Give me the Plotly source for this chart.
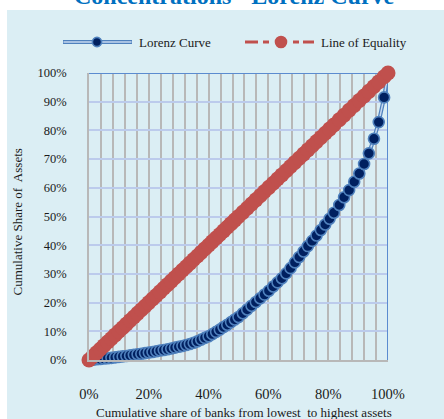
import plotly.graph_objects as go

# ---------------- data (percent) ----------------
bank_share = [
    0, 1.25, 2.5, 3.75, 5, 6.25, 7.5, 8.75, 10, 11.25, 12.5, 13.75, 15, 16.25,
    17.5, 18.75, 20, 21.25, 22.5, 23.75, 25, 26.25, 27.5, 28.75, 30, 31.25,
    32.5, 33.75, 35, 36.25, 37.5, 38.75, 40, 41.25, 42.5, 43.75, 45, 46.25,
    47.5, 48.75, 50, 51.45, 52.9, 54.35, 55.8, 57.25, 58.7, 60.15, 61.6, 63.05,
    64.5, 65.95, 67.4, 68.85, 70.3, 71.75, 73.2, 74.65, 76.1, 77.55, 79.0,
    80.45, 81.9, 83.7, 85.3, 87.0, 88.7, 90.4, 92.0, 93.6, 95.3, 96.9, 98.7, 100,
]
lorenz_share = [
    0, 0.1, 0.25, 0.35, 0.5, 0.6, 0.75, 0.9, 1.1, 1.25, 1.4, 1.6, 1.8, 2.0,
    2.2, 2.4, 2.6, 2.8, 3.05, 3.3, 3.5, 3.75, 4.0, 4.3, 4.6, 4.9,
    5.25, 5.6, 6.0, 6.5, 7.1, 7.7, 8.3, 9.0, 9.8, 10.6, 11.5, 12.3,
    13.2, 14.1, 15.0, 16.3, 17.6, 18.9, 20.2, 21.5, 22.8, 24.15, 25.6, 27.05,
    28.5, 30.2, 32.0, 34.0, 35.9, 37.8, 39.7, 41.5, 43.4, 45.3, 47.2,
    49.2, 51.3, 54.0, 56.7, 59.2, 62.1, 65.0, 68.3, 72.0, 77.1, 82.9, 91.5, 100,
]
x_tick_vals = [0, 20, 40, 60, 80, 100]
x_tick_text = ["0%", "20%", "40%", "60%", "80%", "100%"]
y_tick_vals = [0, 10, 20, 30, 40, 50, 60, 70, 80, 90, 100]
y_tick_text = ["0%", "10%", "20%", "30%", "40%", "50%", "60%", "70%", "80%", "90%", "100%"]

title_text = "Concentrations - Lorenz Curve"
lorenz_name = "Lorenz Curve"
equality_name = "Line of Equality"
x_title = "Cumulative share of banks from lowest  to highest assets"
y_title = "Cumulative Share of  Assets"

# ---------------- styling ----------------
W, H = 444, 419
L, R, T, B = 89, 56, 73, 59
FONT = "Liberation Serif"
BG = "#DBEEF4"
NAVY = "#002060"
BLUE = "#4F81BD"
LIGHT = "#C6D9F1"
RED = "#C0504D"
GRAY = "#B8B8B8"
HGRID = "#BCCBEC"


def px_x(p):
    return (p - L) / (W - L - R)


def px_y(p):
    return (H - B - p) / (H - T - B)


fig = go.Figure()

fig.add_trace(go.Scatter(
    x=bank_share, y=lorenz_share, mode="lines",
    line=dict(color=BLUE, width=4), hoverinfo="skip", showlegend=False,
    cliponaxis=False,
))
fig.add_trace(go.Scatter(
    x=bank_share, y=lorenz_share, mode="lines+markers", name=lorenz_name,
    line=dict(color=LIGHT, width=1.5),
    marker=dict(size=11, color=NAVY, line=dict(color=BLUE, width=1.6)),
    cliponaxis=False, showlegend=False,
))
fig.add_trace(go.Scatter(
    x=bank_share, y=bank_share, mode="lines+markers", name=equality_name,
    line=dict(color=RED, width=3, dash="dash"),
    marker=dict(size=15, color=RED, line=dict(width=0)),
    cliponaxis=False, showlegend=False,
))

shapes = [
    dict(type="rect", xref="paper", yref="paper",
         x0=px_x(7), x1=px_x(W + 2), y0=px_y(H + 2), y1=px_y(10),
         fillcolor=BG, line=dict(width=0), layer="below"),
    dict(type="line", xref="x", yref="y", x0=0, x1=100, y0=100, y1=100,
         line=dict(color="#5B8BD0", width=2), layer="between"),
    dict(type="line", xref="x", yref="y", x0=100, x1=100, y0=0, y1=100,
         line=dict(color="#5B8BD0", width=2), layer="between"),
]

# custom legend
ly = 42
shapes += [
    dict(type="line", xref="paper", yref="paper", x0=px_x(63), x1=px_x(132),
         y0=px_y(ly), y1=px_y(ly), line=dict(color=BLUE, width=4)),
    dict(type="line", xref="paper", yref="paper", x0=px_x(63.5), x1=px_x(131.5),
         y0=px_y(ly), y1=px_y(ly), line=dict(color=LIGHT, width=1.5)),
    dict(type="circle", xref="paper", yref="paper",
         x0=px_x(97 - 4.6), x1=px_x(97 + 4.6), y0=px_y(ly + 4.6), y1=px_y(ly - 4.6),
         fillcolor=NAVY, line=dict(color=BLUE, width=1.6)),
]
for a, b in [(245, 258), (263, 269), (293, 299), (303, 314)]:
    shapes.append(dict(type="line", xref="paper", yref="paper",
                       x0=px_x(a), x1=px_x(b), y0=px_y(ly), y1=px_y(ly),
                       line=dict(color=RED, width=3)))
shapes.append(dict(type="circle", xref="paper", yref="paper",
                   x0=px_x(281 - 6.3), x1=px_x(281 + 6.3),
                   y0=px_y(ly + 6.3), y1=px_y(ly - 6.3),
                   fillcolor=RED, line=dict(width=0)))

annotations = [
    dict(text="<b>" + title_text + "</b>", xref="paper", yref="paper",
         x=px_x(234.5), y=px_y(11), xanchor="center", yanchor="bottom",
         showarrow=False, font=dict(family=FONT, size=24, color="#0070C0")),
    dict(text=lorenz_name, xref="paper", yref="paper", x=px_x(137), y=px_y(ly),
         xanchor="left", yanchor="middle", showarrow=False,
         font=dict(family=FONT, size=13, color="#1a1a1a")),
    dict(text=equality_name, xref="paper", yref="paper", x=px_x(319), y=px_y(ly),
         xanchor="left", yanchor="middle", showarrow=False,
         font=dict(family=FONT, size=13, color="#1a1a1a")),
    dict(text=x_title, xref="paper", yref="paper", x=px_x(243.5), y=px_y(412),
         xanchor="center", yanchor="middle", showarrow=False,
         font=dict(family=FONT, size=13, color="#1a1a1a")),
    dict(text=y_title, xref="paper", yref="paper", x=px_x(16.5), y=px_y(222),
         xanchor="center", yanchor="middle", showarrow=False, textangle=-90,
         font=dict(family=FONT, size=13, color="#1a1a1a")),
]

fig.update_layout(
    width=W, height=H,
    margin=dict(l=L, r=R, t=T, b=B, autoexpand=False),
    paper_bgcolor="white", plot_bgcolor=BG,
    showlegend=False,
    shapes=shapes, annotations=annotations,
    xaxis=dict(
        range=[0, 100], tickvals=x_tick_vals, ticktext=x_tick_text,
        showgrid=True, gridcolor=GRAY, gridwidth=1.6,
        minor=dict(tickvals=list(range(0, 101, 4)), showgrid=True,
                   gridcolor=GRAY, gridwidth=1.6),
        showline=True, linecolor=GRAY, linewidth=1.6,
        zeroline=False, ticks="", ticklabelstandoff=20,
        tickfont=dict(family=FONT, size=14.5, color="#1a1a1a"),
        fixedrange=True,
    ),
    yaxis=dict(
        range=[0, 100], tickvals=y_tick_vals, ticktext=y_tick_text,
        showgrid=True, gridcolor=HGRID, gridwidth=1.6,
        showline=True, linecolor=GRAY, linewidth=1.6,
        zeroline=False, ticks="", ticklabelstandoff=18,
        tickfont=dict(family=FONT, size=12.5, color="#1a1a1a"),
        fixedrange=True,
    ),
)

fig.write_html("out.html")
